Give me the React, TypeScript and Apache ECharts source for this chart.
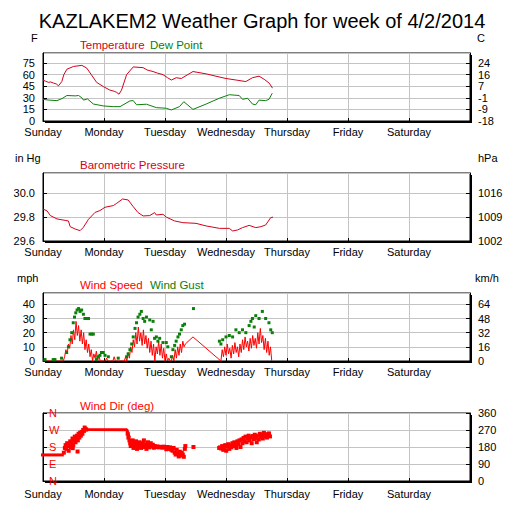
import React, { useEffect, useRef } from "react";
import * as echarts from "echarts";

const chartTitle = "KAZLAKEM2 Weather Graph for week of 4/2/2014";
const dayNames = ["Sunday", "Monday", "Tuesday", "Wednesday", "Thursday", "Friday", "Saturday"];

// hours since Sunday 00:00, degrees F
const temperature = [
  [0, 53], [1, 51.5], [2.2, 50], [3, 50.5], [4.2, 49], [5.2, 48], [6.1, 45.5], [7.4, 51], [8.2, 60],
  [9.4, 67], [12, 70.6], [15.3, 72], [17.2, 68.5], [19, 60], [21.1, 50], [23.7, 44.6], [26.3, 40],
  [28, 38.5], [29, 37], [29.9, 34.7], [30.9, 40], [32.9, 60], [35.5, 70], [39.4, 69], [41, 66],
  [43.3, 64], [45, 62], [47.2, 60], [49, 56], [50.5, 53], [52.4, 56], [54.4, 55], [59, 64],
  [64.2, 61], [68, 58], [72, 55], [76, 53], [79.8, 51], [82.4, 56], [85, 58], [87, 54],
  [89, 49], [90.3, 42.5],
];
const dewPoint = [
  [0, 28], [2.5, 27], [5.5, 26.4], [7.5, 29], [9.4, 33], [12.7, 32.5], [14, 33], [15.3, 30], [15.9, 27],
  [17.5, 28.6], [19.8, 22], [23.7, 19.5], [27.7, 18.6], [30.3, 18.6], [34.2, 26], [35.5, 26.4],
  [36.8, 21], [40.7, 21.7], [44.6, 17.3], [48.5, 16.5], [50.5, 14.3], [53.7, 18.6], [55.4, 25],
  [59, 15], [64.2, 22], [69.4, 29.5], [73.3, 34], [77.2, 33], [78.5, 28], [80.5, 29.5], [82.4, 22],
  [83.7, 21], [85, 27], [87.6, 26.4], [88.9, 28], [90.2, 36],
];
// inHg
const pressure = [
  [0, 29.868], [1.6, 29.852], [2.9, 29.813], [5.5, 29.785], [8.7, 29.773], [10, 29.768],
  [10.7, 29.72], [12.7, 29.7], [14.6, 29.687], [15.9, 29.715], [17.9, 29.782], [20.5, 29.84],
  [22.4, 29.855], [24.4, 29.883], [27.7, 29.897], [29, 29.916], [31.3, 29.952], [33.5, 29.944],
  [35.5, 29.888], [37.4, 29.838], [39.4, 29.81], [42, 29.813], [43.9, 29.838], [44.6, 29.818],
  [47.2, 29.824], [48.5, 29.8], [51.8, 29.768], [55, 29.754], [60.2, 29.748], [64.2, 29.726],
  [69.4, 29.706], [73.3, 29.706], [74.6, 29.684], [76.5, 29.692], [78.5, 29.712], [81.1, 29.731],
  [83.7, 29.712], [85.7, 29.72], [87.6, 29.734], [89.6, 29.796], [90.5, 29.8],
];
// wind speed (mph), one reading every half hour from each start hour
const SPEED_STEP = 0.5;
const windSpeedSunStart = 0;
const windSpeedSun = [
  0, 0, 0, 0, 0, 0, 0, 0, 0, 0, 0, 0, 0, 0, 0, 0, 0,
  3, 8, 5, 12, 9, 18, 12, 22, 15, 28, 18, 25, 14, 22, 12, 20, 8, 15, 6, 12, 3, 8, 0, 5, 2, 7, 0, 4, 0, 0, 0,
];
const windSpeedMonStart = 24;
const windSpeedMon = [
  0, 0, 2, 0, 0, 0, 0, 0, 3, 0, 0, 0, 0, 0, 0, 0, 0,
  3, 0, 6, 2, 10, 6, 15, 10, 20, 12, 24, 14, 20, 11, 22, 12, 18, 9, 16, 6, 14, 4, 12, 0, 10, 5, 14, 4, 12, 2, 9,
];
const windSpeedTueStart = 48;
const windSpeedTue = [0, 5, 0, 2, 0, 0, 4, 0, 8, 2, 10, 4, 12, 6, 14, 10, 12];
const windSpeedGap = [[59, 17]];
const windSpeedWedStart = 70;
const windSpeedWed = [
  0, 8, 3, 10, 4, 12, 5, 9, 2, 11, 5, 13, 6, 10, 3, 12, 6, 15, 8, 17, 10, 14, 7, 16, 9, 18,
  11, 16, 9, 20, 12, 23, 13, 18, 8, 16, 6, 14, 4, 10, 0,
];
// wind gusts (hour, mph)
const windGust = [
  [0.8, 1], [4, 1], [4.7, 1], [7.3, 2], [9.3, 6], [10, 10], [10.6, 15], [11.3, 20], [11.9, 27],
  [12.4, 31], [12.9, 34], [13.4, 36], [14, 37], [14.6, 35], [15.2, 36], [15.9, 33], [16.5, 30],
  [17.2, 30], [17.9, 30], [18.5, 19], [19.2, 19], [19.8, 19], [21, 1], [21.6, 3], [22.4, 4],
  [23, 6], [23.7, 6], [24.4, 4], [25.7, 3], [29.6, 2], [32.9, 3], [33.5, 5], [34.2, 8],
  [34.9, 12], [35.5, 17], [36.2, 23], [36.8, 27], [37.4, 31], [38.1, 33], [38.7, 35], [39.4, 30],
  [40, 28], [40.7, 31], [42, 29], [42.6, 22], [43.3, 28], [43.9, 16], [44.6, 17], [45.2, 14],
  [45.9, 16], [47.2, 13], [48.5, 13], [49.1, 10], [50.5, 3], [51.1, 8], [51.8, 11], [52.4, 14],
  [53.1, 17], [53.7, 19], [54.4, 22], [55, 25], [55.7, 26], [59.2, 37], [69.4, 14], [70, 12],
  [70.7, 15], [72, 17], [73.3, 18], [74.6, 17], [75.9, 22], [77.2, 20], [78.5, 22], [79.8, 20],
  [81.1, 25], [81.8, 28], [82.4, 30], [83.1, 24], [83.7, 32], [85, 30], [86.3, 35], [87.6, 30],
  [88.9, 27], [89.6, 22], [90.2, 20],
];
// wind direction (hour, degrees)
const windDirSteadySun = [[-1.2, 138], [8.2, 138]];
const windDirSteadyMon = [[16.2, 283], [17.5, 272], [33, 271], [34, 228]];
const windDir = [
  [8.2, 150], [8.6, 175], [8.9, 190], [9.2, 170], [9.5, 200], [9.8, 185], [10.1, 160], [10.4, 195],
  [10.7, 210], [11, 180], [11.3, 200], [11.6, 225], [11.7, 174], [11.9, 190], [12.2, 215],
  [12.5, 235], [12.8, 205], [13.1, 225], [13.4, 240], [13.6, 156], [13.7, 215], [14, 250],
  [14.3, 230], [14.6, 255], [14.9, 240], [15.2, 260], [15.5, 250], [15.8, 270], [16.1, 265],
  [16.4, 283], [16.7, 275], [17, 272], [33.3, 250], [33.6, 230], [34, 215], [34.3, 200],
  [34.5, 185], [34.6, 205], [35, 190], [35.3, 215], [35.6, 175], [36, 200], [36.3, 185],
  [36.6, 210], [37, 170], [37.3, 195], [37.6, 180], [38, 205], [38.3, 190], [38.6, 175],
  [39, 200], [39.3, 185], [39.7, 215], [40, 180], [40.3, 195], [40.7, 170], [41, 190],
  [41.3, 205], [41.7, 178], [42, 188], [42.4, 200], [42.8, 182], [43.2, 192], [43.6, 176],
  [44, 185], [44.5, 180], [45, 183], [45.5, 178], [46, 181], [46.5, 180], [47, 176], [47.5, 182],
  [48, 180], [48.5, 168], [49, 180], [49.5, 170], [50, 178], [50.5, 165], [51, 160], [51.4, 175],
  [51.8, 150], [52.2, 140], [52.6, 165], [53, 145], [53.4, 130], [53.8, 155], [54.2, 135],
  [54.6, 150], [55, 140], [55.4, 128], [55.8, 170], [56, 185], [59.2, 180],
  [69.3, 175], [69.7, 178], [70.1, 172], [70.5, 185], [70.9, 165], [71.3, 180], [71.7, 190],
  [72.1, 160], [72.5, 182], [72.9, 195], [73.3, 170], [73.7, 188], [74.1, 178], [74.5, 200],
  [74.9, 185], [75.3, 205], [75.7, 190], [76.1, 175], [76.5, 210], [76.9, 195], [77.3, 215],
  [77.7, 180], [78.1, 220], [78.5, 200], [78.9, 228], [79.3, 210], [79.7, 235], [80.1, 205],
  [80.5, 225], [80.9, 240], [81.3, 215], [81.7, 232], [82.1, 200], [82.5, 238], [82.9, 222],
  [83.3, 245], [83.7, 228], [84.1, 205], [84.5, 240], [84.9, 220], [85.3, 250], [85.7, 232],
  [86.1, 245], [86.5, 225], [86.9, 255], [87.3, 238], [87.7, 248], [88.1, 230], [88.5, 242],
  [88.9, 252], [89.3, 236],
];
const compassLabels: Record<number, string> = { 0: "N", 90: "E", 180: "S", 270: "W", 360: "N" };

const toPairs = (start: number, values: number[]) => values.map((v, i) => [start + i * SPEED_STEP, v]);

const FONT = '"Liberation Sans Narrow", "Arial Narrow", "Liberation Sans", Arial, sans-serif';
const RED = "#d4001c";
const BRIGHT_RED = "#ff0000";
const GREEN = "#0a800a";
const GRIDLINE = "#c4c4c4";

const PLOT_LEFT = 43;
const PLOT_WIDTH = 427;
const PLOT_HEIGHT = 68;
const PANEL_TOPS = [53, 173, 293, 413];

export default function App() {
  const ref = useRef<HTMLDivElement>(null);

  useEffect(() => {
    if (!ref.current) return;
    const chart = echarts.init(ref.current, null, { renderer: "svg" });

    const grids = PANEL_TOPS.map((top) => ({
      left: PLOT_LEFT,
      top,
      width: PLOT_WIDTH,
      height: PLOT_HEIGHT,
      show: true,
      backgroundColor: "#fff",
      borderColor: "#000",
      borderWidth: 1,
    }));

    const xAxes = PANEL_TOPS.map((_, i) => ({
      type: "value",
      gridIndex: i,
      min: 0,
      max: 168,
      interval: 24,
      axisLine: { show: true, lineStyle: { color: "#000", width: 1 } },
      axisTick: { show: true, inside: true, length: 3, lineStyle: { color: "#000" } },
      splitLine: { show: true, lineStyle: { color: GRIDLINE, width: 1 } },
      axisLabel: {
        color: "#000",
        fontSize: 11,
        fontFamily: FONT,
        margin: i === 3 ? 7 : 5,
        showMaxLabel: false,
        formatter: (v: number) => dayNames[Math.round(v / 24)] ?? "",
      },
    }));

    const yBase = (grid: number, min: number, max: number, interval: number) => ({
      type: "value",
      gridIndex: grid,
      min,
      max,
      interval,
      axisLine: { show: true, lineStyle: { color: "#000", width: 1 } },
      axisTick: { show: true, inside: true, length: 4, lineStyle: { color: "#000" } },
    });
    const axisText = (formatter: (v: number) => string, extra: any = {}) => ({
      color: "#000",
      fontSize: 11,
      fontFamily: FONT,
      margin: 8,
      showMaxLabel: false,
      formatter,
      ...extra,
    });

    const yAxes = [
      {
        ...yBase(0, 0, 88, 15),
        position: "left",
        splitLine: { show: true, lineStyle: { color: GRIDLINE } },
        axisLabel: axisText((v) => String(Math.round(v))),
      },
      {
        ...yBase(0, 0, 88, 15),
        position: "right",
        splitLine: { show: false },
        axisLabel: axisText((v) => String(Math.round(((v - 32) * 5) / 9))),
      },
      {
        ...yBase(1, 29.6, 30.17, 0.2),
        position: "left",
        splitLine: { show: true, lineStyle: { color: GRIDLINE } },
        axisLabel: axisText((v) => v.toFixed(1)),
      },
      {
        ...yBase(1, 29.6, 30.17, 0.2),
        position: "right",
        splitLine: { show: false },
        axisLabel: axisText((v) => String(Math.round(v * 33.8639))),
      },
      {
        ...yBase(2, 0, 48, 10),
        position: "left",
        splitLine: { show: true, lineStyle: { color: GRIDLINE } },
        axisLabel: axisText((v) => String(Math.round(v))),
      },
      {
        ...yBase(2, 0, 48, 10),
        position: "right",
        splitLine: { show: false },
        axisLabel: axisText((v) => String(Math.round(v * 1.609344))),
      },
      {
        ...yBase(3, 0, 360, 90),
        position: "left",
        splitLine: { show: true, lineStyle: { color: GRIDLINE } },
        axisLabel: axisText((v) => compassLabels[Math.round(v)] ?? "", {
          inside: true,
          margin: 6,
          color: BRIGHT_RED,
          showMaxLabel: true,
        }),
      },
      {
        ...yBase(3, 0, 360, 90),
        position: "right",
        splitLine: { show: false },
        axisLabel: axisText((v) => String(Math.round(v)), { showMaxLabel: true }),
      },
    ];

    const lineSeries = (name: string, data: number[][], x: number, y: number, color: string, width = 1, clip = true) => ({
      name,
      type: "line",
      xAxisIndex: x,
      yAxisIndex: y,
      data,
      clip,
      showSymbol: false,
      symbol: "none",
      lineStyle: { color, width },
      itemStyle: { color },
      z: 3,
    });
    const squares = (name: string, data: number[][], x: number, y: number, color: string, size: number) => ({
      name,
      type: "scatter",
      xAxisIndex: x,
      yAxisIndex: y,
      data,
      symbol: "rect",
      symbolSize: size,
      itemStyle: { color, opacity: 1 },
      z: 4,
    });

    const windSpeedAll = [
      ...toPairs(windSpeedSunStart, windSpeedSun),
      ...toPairs(windSpeedMonStart, windSpeedMon),
      ...toPairs(windSpeedTueStart, windSpeedTue),
      ...windSpeedGap,
      ...toPairs(windSpeedWedStart, windSpeedWed),
    ];

    const text = (x: number, y: number, s: string, fill: string, size: number, align = "left", family = FONT) => ({
      type: "text",
      x,
      y,
      silent: true,
      style: {
        text: s,
        fill,
        font: `${size}px ${family}`,
        align,
        textAlign: align,
        verticalAlign: "middle",
        textVerticalAlign: "middle",
      },
    });

    const shadows: any[] = [];
    PANEL_TOPS.forEach((top) => {
      shadows.push({
        type: "rect",
        silent: true,
        shape: { x: PLOT_LEFT + 2, y: top + PLOT_HEIGHT, width: PLOT_WIDTH, height: 2 },
        style: { fill: "#000" },
      });
      shadows.push({
        type: "rect",
        silent: true,
        shape: { x: PLOT_LEFT + PLOT_WIDTH, y: top + 2, width: 2, height: PLOT_HEIGHT },
        style: { fill: "#000" },
      });
    });

    chart.setOption({
      animation: false,
      backgroundColor: "#fff",
      grid: grids,
      xAxis: xAxes,
      yAxis: yAxes,
      series: [
        lineSeries("Temperature", temperature, 0, 0, RED),
        lineSeries("Dew Point", dewPoint, 0, 0, GREEN),
        lineSeries("Barometric Pressure", pressure, 1, 2, RED),
        lineSeries("Wind Speed", windSpeedAll, 2, 4, BRIGHT_RED),
        squares("Wind Gust", windGust, 2, 4, GREEN, 3),
        lineSeries("Wind Dir steady Sun", windDirSteadySun, 3, 6, BRIGHT_RED, 3, false),
        lineSeries("Wind Dir steady Mon", windDirSteadyMon, 3, 6, BRIGHT_RED, 3),
        squares("Wind Dir (deg)", windDir, 3, 6, BRIGHT_RED, 4),
      ],
      graphic: [
        ...shadows,
        text(262, 21, chartTitle, "#000", 20, "center", '"Liberation Sans", Arial, sans-serif'),
        text(31, 38, "F", "#000", 11),
        text(477, 38, "C", "#000", 11),
        text(80, 45, "Temperature", RED, 11.5),
        text(150, 45, "Dew Point", GREEN, 11.5),
        text(15, 158, "in Hg", "#000", 11),
        text(478, 158, "hPa", "#000", 11),
        text(80, 165, "Barometric Pressure", RED, 11.5),
        text(17, 278, "mph", "#000", 11),
        text(475, 278, "km/h", "#000", 11),
        text(80, 285, "Wind Speed", BRIGHT_RED, 11.5),
        text(150, 285, "Wind Gust", GREEN, 11.5),
        text(80, 406, "Wind Dir (deg)", BRIGHT_RED, 11.5),
      ],
    });

    return () => chart.dispose();
  }, []);

  return (
    <div
      ref={ref}
      style={{ position: "fixed", left: 0, top: 0, width: 516, height: 512, background: "#fff" }}
    />
  );
}
